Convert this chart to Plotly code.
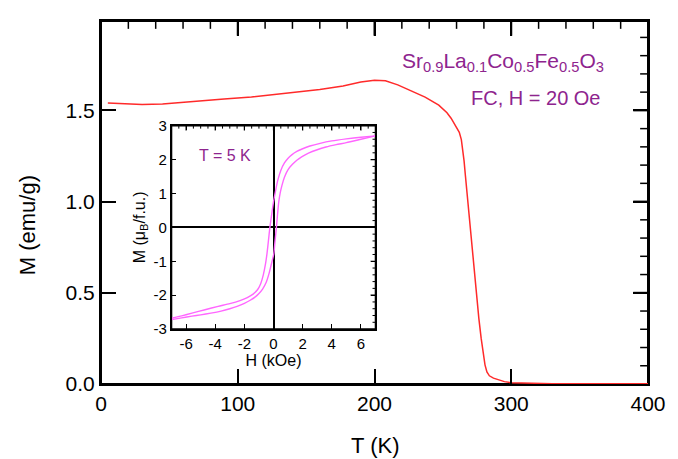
import plotly.graph_objects as go

# Field-cooled magnetization M(T), H = 20 Oe
T_K = [5, 15, 30, 45, 67, 90, 110, 129, 140, 160, 177, 190, 200, 208, 217, 228, 237,
       247, 250, 253, 256, 258, 260, 262, 263.5, 264.5, 265.5, 266.5, 267.5, 268.5,
       270, 271.4, 272.7, 274.5, 276.3, 278, 279.4, 280.8, 282.2, 284, 287, 290, 295,
       300, 310, 330, 360, 400]
M_emu = [1.540, 1.536, 1.532, 1.535, 1.550, 1.562, 1.573, 1.588, 1.598, 1.614, 1.634,
         1.655, 1.665, 1.662, 1.640, 1.605, 1.573, 1.529, 1.510, 1.487, 1.457, 1.433,
         1.410, 1.380, 1.340, 1.290, 1.223, 1.140, 1.060, 0.970, 0.860, 0.750, 0.620,
         0.470, 0.360, 0.250, 0.165, 0.105, 0.066, 0.045, 0.032, 0.024, 0.013, 0.007,
         0.004, 0.002, 0.001, 0.001]

# Hysteresis loop at T = 5 K: descending branch
H_down = [7, 6, 5, 4, 3.2, 2.5, 2.0, 1.6, 1.25, 1.0, 0.75, 0.5, 0.3, 0.15, 0.0, -0.12,
          -0.25, -0.35, -0.45, -0.55, -0.7, -0.88, -1.1, -1.4, -1.8, -2.3, -3.0, -3.8,
          -4.7, -5.6, -6.3, -7.0]
M_down = [2.70, 2.66, 2.61, 2.55, 2.48, 2.40, 2.32, 2.24, 2.14, 2.04, 1.90, 1.68, 1.40,
          1.10, 0.75, 0.40, 0.0, -0.40, -0.78, -1.08, -1.40, -1.66, -1.84, -1.97, -2.07,
          -2.16, -2.25, -2.33, -2.43, -2.53, -2.61, -2.68]

# ascending branch
H_up = [-7.0, -6.3, -5.6, -5.0, -4.3, -3.6, -3.0, -2.5, -2.0, -1.6, -1.25, -1.0, -0.75,
        -0.5, -0.3, -0.1, 0.02, 0.1, 0.2, 0.28, 0.36, 0.46, 0.58, 0.75, 0.99, 1.3, 1.6,
        1.93, 2.4, 3.0, 3.6, 4.3, 5.0, 6.0, 7.0]
M_up = [-2.72, -2.67, -2.62, -2.58, -2.53, -2.47, -2.40, -2.33, -2.24, -2.15, -2.05,
        -1.95, -1.82, -1.62, -1.35, -1.00, -0.78, -0.42, 0.0, 0.40, 0.75, 1.02, 1.24,
        1.48, 1.70, 1.86, 1.98, 2.08, 2.19, 2.29, 2.37, 2.44, 2.50, 2.60, 2.70]

inset_x_ticks = [-6, -4, -2, 0, 2, 4, 6]
inset_y_ticks = [-3, -2, -1, 0, 1, 2, 3]

W, H = 678, 459
L, R, TOP, BOT = 101, 21, 14, 75
PW, PH = W - L - R, H - TOP - BOT
X_RANGE, Y_RANGE = [0, 400], [0, 1.99]
HX_RANGE, MY_RANGE = [-7, 7], [-3, 3]

def px_x(x):
    return (x - L) / PW

def px_y(y):
    return (H - BOT - y) / PH

FONT = "Arial, Liberation Sans, sans-serif"
PURPLE = "#8E248E"

inset_domain_x = [px_x(172.7), px_x(380)]
inset_domain_y = [px_y(328), px_y(120.7)]
IW = PW * (inset_domain_x[1] - inset_domain_x[0])
IH = PH * (inset_domain_y[1] - inset_domain_y[0])

fig = go.Figure()


def frame_trace(xa, ya, xr, yr, width):
    # closed outline along the axis limits of one panel
    fig.add_trace(go.Scatter(x=[xr[0], xr[1], xr[1], xr[0], xr[0]],
                             y=[yr[0], yr[0], yr[1], yr[1], yr[0]],
                             mode="lines", line=dict(color="black", width=width),
                             cliponaxis=False, xaxis=xa, yaxis=ya,
                             showlegend=False, hoverinfo="skip"))


def edge_ticks(xa, ya, xr, yr, xvals, yvals, length, width):
    # tick marks on the top and right edges of one panel
    h = PH if xa == "x" else IH
    w = PW if xa == "x" else IW
    dy = length / h * (yr[1] - yr[0])
    dx = length / w * (xr[1] - xr[0])
    xs, ys = [], []
    for v in xvals:
        xs += [v, v, None]
        ys += [yr[1], yr[1] - dy, None]
    for v in yvals:
        xs += [xr[1], xr[1] - dx, None]
        ys += [v, v, None]
    fig.add_trace(go.Scatter(x=xs, y=ys, mode="lines", line=dict(color="black", width=width),
                             cliponaxis=False, xaxis=xa, yaxis=ya,
                             showlegend=False, hoverinfo="skip"))


frame_trace("x", "y", X_RANGE, Y_RANGE, 2)
edge_ticks("x", "y", X_RANGE, Y_RANGE, [100, 200, 300], [0.5, 1.0, 1.5], 15, 2)
edge_ticks("x", "y", X_RANGE, Y_RANGE,
           [t for t in range(20, 400, 20) if t % 100],
           [i / 10 for i in range(1, 20) if i % 5], 8, 1.5)

fig.add_trace(go.Scatter(x=T_K, y=M_emu, mode="lines", line=dict(color="#ff2a2a", width=1.5),
                         xaxis="x", yaxis="y", showlegend=False))

frame_trace("x2", "y2", HX_RANGE, MY_RANGE, 1.5)
edge_ticks("x2", "y2", HX_RANGE, MY_RANGE, inset_x_ticks, inset_y_ticks[1:-1], 5, 1.2)
edge_ticks("x2", "y2", HX_RANGE, MY_RANGE,
           [i / 2 for i in range(-13, 14) if i % 4],
           [i / 5 for i in range(-14, 15) if i % 5], 3, 1)

fig.add_trace(go.Scatter(x=H_down, y=M_down, mode="lines", line=dict(color="#ff66ff", width=1.4),
                         line_shape="spline", line_smoothing=0.6,
                         xaxis="x2", yaxis="y2", showlegend=False))
fig.add_trace(go.Scatter(x=H_up, y=M_up, mode="lines", line=dict(color="#ff66ff", width=1.4),
                         line_shape="spline", line_smoothing=0.6,
                         xaxis="x2", yaxis="y2", showlegend=False))

main_ticks = dict(showline=True, linecolor="black", linewidth=2, mirror="ticks",
                  ticks="inside", tickcolor="black", tickwidth=2, ticklen=15,
                  showgrid=False, zeroline=False,
                  tickfont=dict(family=FONT, size=21, color="black"))

inset_ticks = dict(showline=True, linecolor="black", linewidth=1.5, mirror="ticks",
                   ticks="inside", ticklen=5, tickwidth=1.2, tickcolor="black",
                   showgrid=False, tickfont=dict(family=FONT, size=15, color="black"))

fig.update_layout(
    width=W, height=H,
    margin=dict(l=L, r=R, t=TOP, b=BOT),
    paper_bgcolor="white", plot_bgcolor="white",
    xaxis=dict(main_ticks, range=X_RANGE, dtick=100, tick0=0),
    yaxis=dict(main_ticks, range=Y_RANGE, dtick=0.5, tick0=0, tickformat=".1f"),
    xaxis2=dict(inset_ticks, domain=inset_domain_x, anchor="y2", range=HX_RANGE,
                tickmode="array", tickvals=inset_x_ticks,
                ticktext=[str(v) for v in inset_x_ticks],
                zeroline=True, zerolinecolor="black", zerolinewidth=1.5,
                title=dict(text="H (kOe)", font=dict(family=FONT, size=16, color="black"), standoff=2)),
    yaxis2=dict(inset_ticks, domain=inset_domain_y, anchor="x2", range=MY_RANGE,
                tickmode="array", tickvals=inset_y_ticks,
                ticktext=[str(v) for v in inset_y_ticks],
                zeroline=True, zerolinecolor="black", zerolinewidth=1.5,
                title=dict(text="M (\u03bc<sub>B</sub>/f.u.)", font=dict(family=FONT, size=16, color="black"),
                           standoff=4)),
)

annotations = [
    dict(text="M (emu/g)", x=px_x(26), y=px_y(222), textangle=-90,
         font=dict(family=FONT, size=22, color="black")),
    dict(text="T (K)", x=px_x(380), y=px_y(447),
         font=dict(family=FONT, size=22, color="black")),
    dict(text="Sr<sub>0.9</sub>La<sub>0.1</sub>Co<sub>0.5</sub>Fe<sub>0.5</sub>O<sub>3</sub>",
         x=px_x(614), y=px_y(56), xanchor="right",
         font=dict(family=FONT, size=21, color=PURPLE)),
    dict(text="FC, H = 20 Oe", x=px_x(611), y=px_y(92), xanchor="right",
         font=dict(family=FONT, size=20, color=PURPLE)),
    dict(text="T = 5 K", x=px_x(199), y=px_y(151), xanchor="left",
         font=dict(family=FONT, size=16, color=PURPLE)),
]
for a in annotations:
    a.update(xref="paper", yref="paper", showarrow=False)
    a.setdefault("xanchor", "center")
    a.setdefault("yanchor", "middle")
fig.update_layout(annotations=annotations)

fig.write_html("out.html")
